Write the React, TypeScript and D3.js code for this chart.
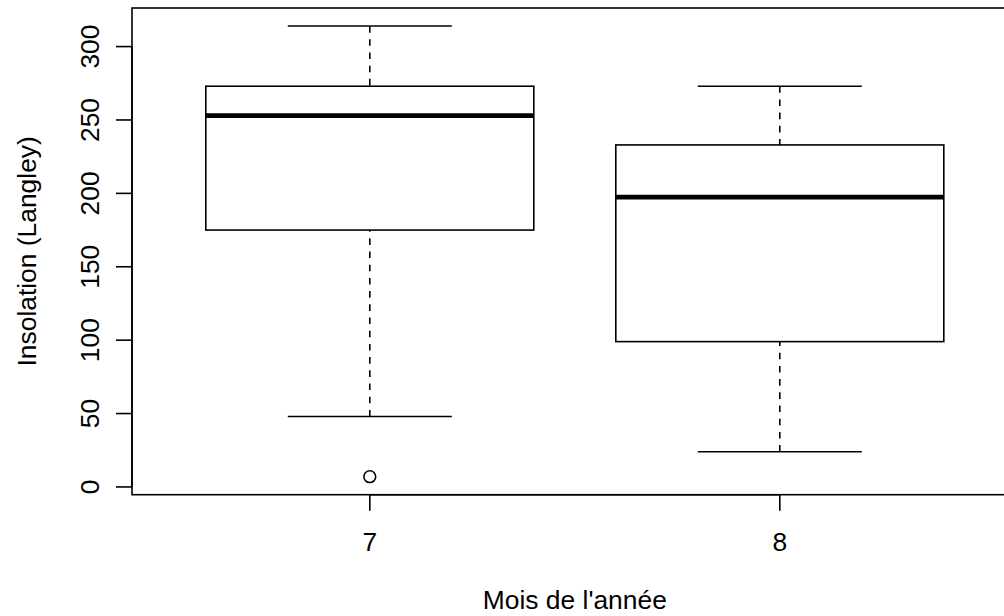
import React from "react";
import { scaleLinear } from "d3";

// boxplot stats (Solar.R by month)
const months = ["7", "8"];
const whiskerLow = [48, 24];
const q1 = [175, 99];
const medians = [253, 197.5];
const q3 = [273, 233];
const whiskerHigh = [314, 273];
const outliers = [[7], []];
const yTicks = [0, 50, 100, 150, 200, 250, 300];

const W = 1004;
const H = 616;
const plotLeft = 132;
const plotRight = 1017.6;
const plotTop = 8;
const plotBottom = 494.7;
const font = "'Liberation Sans', Arial, Helvetica, sans-serif";
const fs = 26.4;
const lwd = 1.6;

export default function App() {
  const allVals = [...whiskerLow, ...whiskerHigh, ...outliers.flat()];
  const lo = Math.min(...allVals);
  const hi = Math.max(...allVals);
  const pad = (hi - lo) * 0.04;

  const yScale = scaleLinear()
    .domain([lo - pad, hi + pad])
    .range([plotBottom, plotTop]);
  const n = months.length;
  const xPad = n * 0.04;
  const xScale = scaleLinear()
    .domain([0.5 - xPad, n + 0.5 + xPad])
    .range([plotLeft, plotRight]);

  const boxHalf = xScale(1.4) - xScale(1);
  const stapleHalf = boxHalf / 2;
  const tickLen = 16;

  return (
    <svg
      width={W}
      height={H}
      style={{ position: "absolute", left: 0, top: 0, background: "#fff" }}
      fontFamily={font}
    >
      <rect x={0} y={0} width={W} height={H} fill="#fff" />

      {months.map((m, i) => {
        const cx = xScale(i + 1);
        return (
          <g key={m} stroke="#000" fill="none">
            {/* whiskers */}
            <line
              x1={cx}
              x2={cx}
              y1={yScale(whiskerLow[i])}
              y2={yScale(q1[i])}
              strokeWidth={lwd}
              strokeDasharray="6.6 6.6"
            />
            <line
              x1={cx}
              x2={cx}
              y1={yScale(whiskerHigh[i])}
              y2={yScale(q3[i])}
              strokeWidth={lwd}
              strokeDasharray="6.6 6.6"
            />
            {/* staples */}
            <line
              x1={cx - stapleHalf}
              x2={cx + stapleHalf}
              y1={yScale(whiskerLow[i])}
              y2={yScale(whiskerLow[i])}
              strokeWidth={lwd}
            />
            <line
              x1={cx - stapleHalf}
              x2={cx + stapleHalf}
              y1={yScale(whiskerHigh[i])}
              y2={yScale(whiskerHigh[i])}
              strokeWidth={lwd}
            />
            {/* box */}
            <rect
              x={cx - boxHalf}
              y={yScale(q3[i])}
              width={boxHalf * 2}
              height={yScale(q1[i]) - yScale(q3[i])}
              strokeWidth={lwd}
            />
            {/* median */}
            <line
              x1={cx - boxHalf}
              x2={cx + boxHalf}
              y1={yScale(medians[i])}
              y2={yScale(medians[i])}
              strokeWidth={4.8}
            />
            {outliers[i].map((v, j) => (
              <circle key={j} cx={cx} cy={yScale(v)} r={5.9} strokeWidth={lwd} />
            ))}
          </g>
        );
      })}

      {/* plot frame */}
      <rect
        x={plotLeft}
        y={plotTop}
        width={plotRight - plotLeft}
        height={plotBottom - plotTop}
        fill="none"
        stroke="#000"
        strokeWidth={lwd}
      />

      {/* y axis */}
      <g stroke="#000" strokeWidth={lwd}>
        <line
          x1={plotLeft}
          x2={plotLeft}
          y1={yScale(yTicks[0])}
          y2={yScale(yTicks[yTicks.length - 1])}
        />
        {yTicks.map((t) => (
          <line key={t} x1={plotLeft - tickLen} x2={plotLeft} y1={yScale(t)} y2={yScale(t)} />
        ))}
      </g>
      {yTicks.map((t) => (
        <text
          key={t}
          transform={`translate(${plotLeft - 33},${yScale(t)}) rotate(-90)`}
          textAnchor="middle"
          fontSize={fs}
          fill="#000"
        >
          {t}
        </text>
      ))}

      {/* x axis */}
      <g stroke="#000" strokeWidth={lwd}>
        <line x1={xScale(1)} x2={xScale(n)} y1={plotBottom} y2={plotBottom} />
        {months.map((m, i) => (
          <line
            key={m}
            x1={xScale(i + 1)}
            x2={xScale(i + 1)}
            y1={plotBottom}
            y2={plotBottom + tickLen}
          />
        ))}
      </g>
      {months.map((m, i) => (
        <text
          key={m}
          x={xScale(i + 1)}
          y={550.5}
          textAnchor="middle"
          fontSize={fs}
          fill="#000"
        >
          {m}
        </text>
      ))}

      {/* axis titles */}
      <text
        x={(plotLeft + plotRight) / 2}
        y={609}
        textAnchor="middle"
        fontSize={fs}
        fill="#000"
      >
        Mois de l'année
      </text>
      <text
        transform={`translate(36,${(plotTop + plotBottom) / 2}) rotate(-90)`}
        textAnchor="middle"
        fontSize={fs}
        fill="#000"
      >
        Insolation (Langley)
      </text>
    </svg>
  );
}
